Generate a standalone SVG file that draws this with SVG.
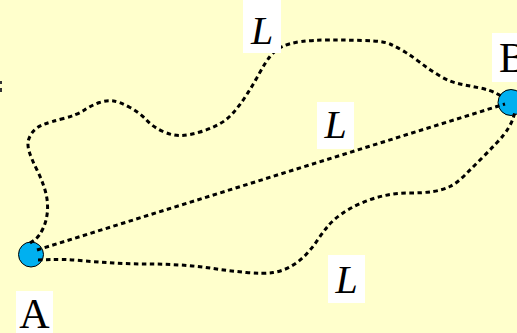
<svg xmlns="http://www.w3.org/2000/svg" width="517" height="333" viewBox="0 0 517 333">
<style>
.bg{fill:#FFFFCC}
.node{fill:#00B0F0;stroke:#000;stroke-width:1}
.conn{fill:none;stroke:#000;stroke-width:3;stroke-dasharray:4.5 3.5}
.box{fill:#FFFFFF}
.t{font-family:"Liberation Serif","Times New Roman",serif;fill:#000;text-anchor:middle}
.lbl{font-size:40px;font-style:italic}
.nl{font-size:42px}
</style>
<rect class="bg" x="0" y="0" width="517" height="333"/>
<rect x="0" y="81" width="2" height="3" fill="#333"/>
<rect x="0" y="88" width="2" height="4" fill="#333"/>
<g id="node-A">
<circle class="node" cx="31" cy="254.5" r="12.5"/>
</g>
<g id="node-B">
<circle class="node" cx="511" cy="102.5" r="13"/>
</g>
<g id="connectors">
<path class="conn" d="M30,243 L34.5,240 Q39,237 43,228.5 Q47,220 47.5,210 Q48,200 45,190 Q42,180 37,170 Q32,160 29.5,152.5 Q27,145 28.5,140 Q30,135 33.5,131 Q37,127 43.5,124.5 Q50,122 63.5,118.5 Q77,115 84.5,110 Q92,105 99.5,102.5 Q107,100 113.5,101 Q120,102 130,107.5 Q140,113 146.5,120 Q153,127 163,131.5 Q173,136 181.5,135.5 Q190,135 200,132 Q210,129 218.5,124.5 Q227,120 233.5,112.5 Q240,105 246.5,95 Q253,85 259,74 Q265,63 270,56.5 Q275,50 282.5,46.5 Q290,43 301.5,41.5 Q313,40 330,40 Q347,40 365,40.5 Q383,41 390,44 Q397,47 405,52 Q413,57 421.5,63.5 Q430,70 440,76 Q450,82 460,84 Q470,86 480,88 Q490,90 496.5,93.5 L503,97"/>
<path class="conn" d="M37,250 L505,104"/>
<path class="conn" d="M38,260 L50.5,259.5 Q63,259 80,260.5 Q97,262 113.5,263 Q130,264 146.5,264 Q163,264 180,265 Q197,266 213.5,268.5 Q230,271 246.5,272.5 Q263,274 273,272.5 Q283,271 291.5,266 Q300,261 306.5,254 Q313,247 318,239.5 Q323,232 328,226 Q333,220 341.5,214 Q350,208 361.5,203 Q373,198 385,195.5 Q397,193 410,193 Q423,193 433,191.5 Q443,190 450,186.5 Q457,183 465,175 Q473,167 481.5,158.5 Q490,150 497.5,142 Q505,134 508.5,128 Q512,122 513.5,117 L515,112"/>
</g>
<g id="labels">
<rect class="box" x="243" y="0" width="38" height="53"/>
<text class="t lbl" x="262" y="44">L</text>
<rect class="box" x="317" y="102" width="37" height="47"/>
<text class="t lbl" x="335.5" y="138">L</text>
<rect class="box" x="328" y="255" width="37" height="48"/>
<text class="t lbl" x="346.5" y="293">L</text>
</g>
<g id="label-A">
<rect class="box" x="16" y="291" width="37" height="42"/>
<text class="t nl" x="34.5" y="328">A</text>
</g>
<g id="label-B">
<rect class="box" x="492" y="33" width="25" height="49"/>
<text class="t nl" x="513" y="72">B</text>
</g>
</svg>
